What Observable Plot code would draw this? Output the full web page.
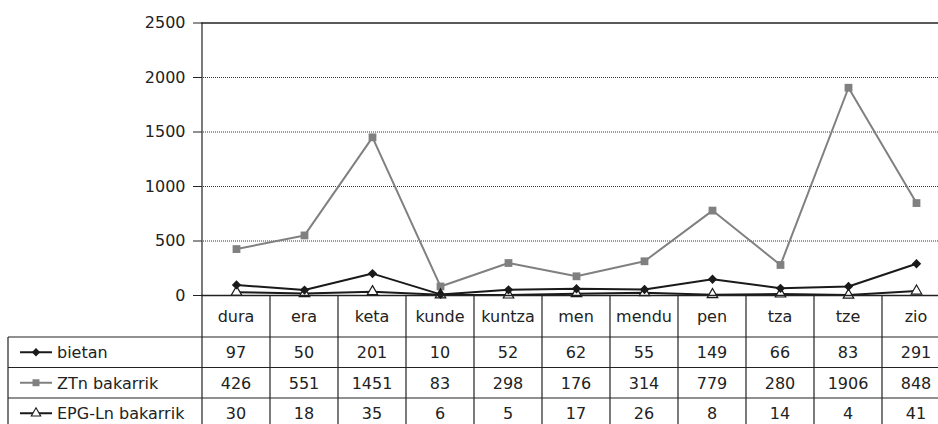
<!DOCTYPE html>
<html>
<head>
<meta charset="utf-8">
<script src="https://cdn.jsdelivr.net/npm/d3@7"></script>
<script src="https://cdn.jsdelivr.net/npm/@observablehq/plot@0.6"></script>
<style>
  html, body { margin: 0; padding: 0; background: #fff; }
  #chart svg { display: block; }
</style>
</head>
<body>
<div id="chart"></div>
<script>
// ---- data ----
const categories = ["dura", "era", "keta", "kunde", "kuntza", "men", "mendu", "pen", "tza", "tze", "zio"];
const seriesNames = ["bietan", "ZTn bakarrik", "EPG-Ln bakarrik"];
const bietan = [97, 50, 201, 10, 52, 62, 55, 149, 66, 83, 291];
const ztnBakarrik = [426, 551, 1451, 83, 298, 176, 314, 779, 280, 1906, 848];
const epgBakarrik = [30, 18, 35, 6, 5, 17, 26, 8, 14, 4, 41];
const yTicks = [0, 500, 1000, 1500, 2000, 2500];

// ---- styles ----
const FONT = "DejaVu Sans, Liberation Sans, sans-serif";
const styles = {
  "bietan": {stroke: "#1a1a1a", symbol: "diamond2", d3symbol: d3.symbolDiamond2, fill: "#1a1a1a", mstroke: "#1a1a1a", r: 4.2},
  "ZTn bakarrik": {stroke: "#808080", symbol: "square", d3symbol: d3.symbolSquare, fill: "#808080", mstroke: "#808080", r: 4.4},
  "EPG-Ln bakarrik": {stroke: "#1a1a1a", symbol: "triangle", d3symbol: d3.symbolTriangle, fill: "#ffffff", mstroke: "#1a1a1a", r: 3.9}
};
const seriesValues = {"bietan": bietan, "ZTn bakarrik": ztnBakarrik, "EPG-Ln bakarrik": epgBakarrik};

const rows = seriesNames.flatMap(s => categories.map((c, i) => ({series: s, cat: c, value: seriesValues[s][i]})));

// draw order: gray series first, then black ones
const drawOrder = ["ZTn bakarrik", "EPG-Ln bakarrik", "bietan"];

function lineMarks(s) {
  const st = styles[s];
  const d = rows.filter(r => r.series === s);
  return [
    Plot.line(d, {x: "cat", y: "value", stroke: st.stroke, strokeWidth: 2}),
    Plot.dot(d, {x: "cat", y: "value", symbol: () => st.symbol, r: st.r, fill: st.fill, stroke: st.mstroke, strokeWidth: s === "EPG-Ln bakarrik" ? 1.2 : 0})
  ];
}

// data table drawn below the chart, positioned with the plot's x scale
function dataTable(index, scales, values, dimensions) {
  const x = scales.x, y = scales.y;
  const bw = x.bandwidth();
  const y0 = y(0);
  const top = y(yTicks[yTicks.length - 1]);
  const H = dimensions.height;
  const headerH = 42, rowH = 30.5, left = 8;
  const right = x(categories[categories.length - 1]) + bw;
  const headerBottom = y0 + headerH;
  const lineColor = "#222";
  const g = d3.create("svg:g")
    .attr("font-family", FONT).attr("font-size", 16).attr("fill", "#222");

  // vertical dividers
  categories.forEach((c, i) => {
    g.append("line").attr("x1", x(c)).attr("x2", x(c))
      .attr("y1", i === 0 ? top : y0).attr("y2", H + 5)
      .attr("stroke", lineColor).attr("stroke-width", 1.2);
  });
  g.append("line").attr("x1", right).attr("x2", right).attr("y1", y0).attr("y2", H + 5)
    .attr("stroke", lineColor).attr("stroke-width", 1.2);
  g.append("line").attr("x1", left).attr("x2", left).attr("y1", headerBottom).attr("y2", H + 5)
    .attr("stroke", lineColor).attr("stroke-width", 1.2);

  // horizontal lines
  for (let k = 0; k <= seriesNames.length; k++) {
    const yy = headerBottom + k * rowH;
    g.append("line").attr("x1", left).attr("x2", right).attr("y1", yy).attr("y2", yy)
      .attr("stroke", lineColor).attr("stroke-width", 1.2);
  }

  // header labels
  categories.forEach(c => {
    g.append("text").attr("x", x(c) + bw / 2).attr("y", y0 + headerH / 2)
      .attr("dy", "0.36em").attr("text-anchor", "middle").text(c);
  });

  // rows
  seriesNames.forEach((s, k) => {
    const cy = headerBottom + k * rowH + rowH / 2;
    const st = styles[s];
    g.append("line").attr("x1", 20).attr("x2", 52).attr("y1", cy).attr("y2", cy)
      .attr("stroke", st.stroke).attr("stroke-width", 2);
    g.append("path")
      .attr("d", d3.symbol(st.d3symbol, Math.PI * st.r * st.r * 0.8)())
      .attr("transform", `translate(36,${cy})`)
      .attr("fill", st.fill).attr("stroke", st.mstroke)
      .attr("stroke-width", s === "EPG-Ln bakarrik" ? 1.1 : 0);
    g.append("text").attr("x", 57).attr("y", cy).attr("dy", "0.36em")
      .attr("text-anchor", "start").text(s);
    categories.forEach((c, i) => {
      g.append("text").attr("x", x(c) + bw / 2).attr("y", cy).attr("dy", "0.36em")
        .attr("text-anchor", "middle").text(seriesValues[s][i]);
    });
  });
  return g.node();
}

const chart = Plot.plot({
  width: 938,
  height: 424,
  marginLeft: 201,
  marginRight: 0,
  marginTop: 22.5,
  marginBottom: 129,
  style: {fontFamily: FONT, fontSize: "16px", color: "#222", background: "#fff", overflow: "hidden"},
  x: {type: "band", domain: categories, range: [201, 950], padding: 0, axis: null},
  y: {domain: [0, 2500], axis: null},
  marks: [
    Plot.gridY(yTicks.slice(1, -1), {stroke: "#333", strokeOpacity: 1, strokeDasharray: "1,1", strokeWidth: 1}),
    Plot.ruleY([yTicks[yTicks.length - 1]], {stroke: "#222", strokeWidth: 1.3}),
    Plot.axisY({ticks: yTicks, tickSize: 8, tickPadding: 8, tickFormat: d => String(d), fontSize: 16, label: null, stroke: "#222"}),
    ...drawOrder.flatMap(lineMarks),
    Plot.ruleY([0], {stroke: "#222", strokeWidth: 1.3}),
    dataTable
  ]
});
document.getElementById("chart").appendChild(chart);
</script>
</body>
</html>
